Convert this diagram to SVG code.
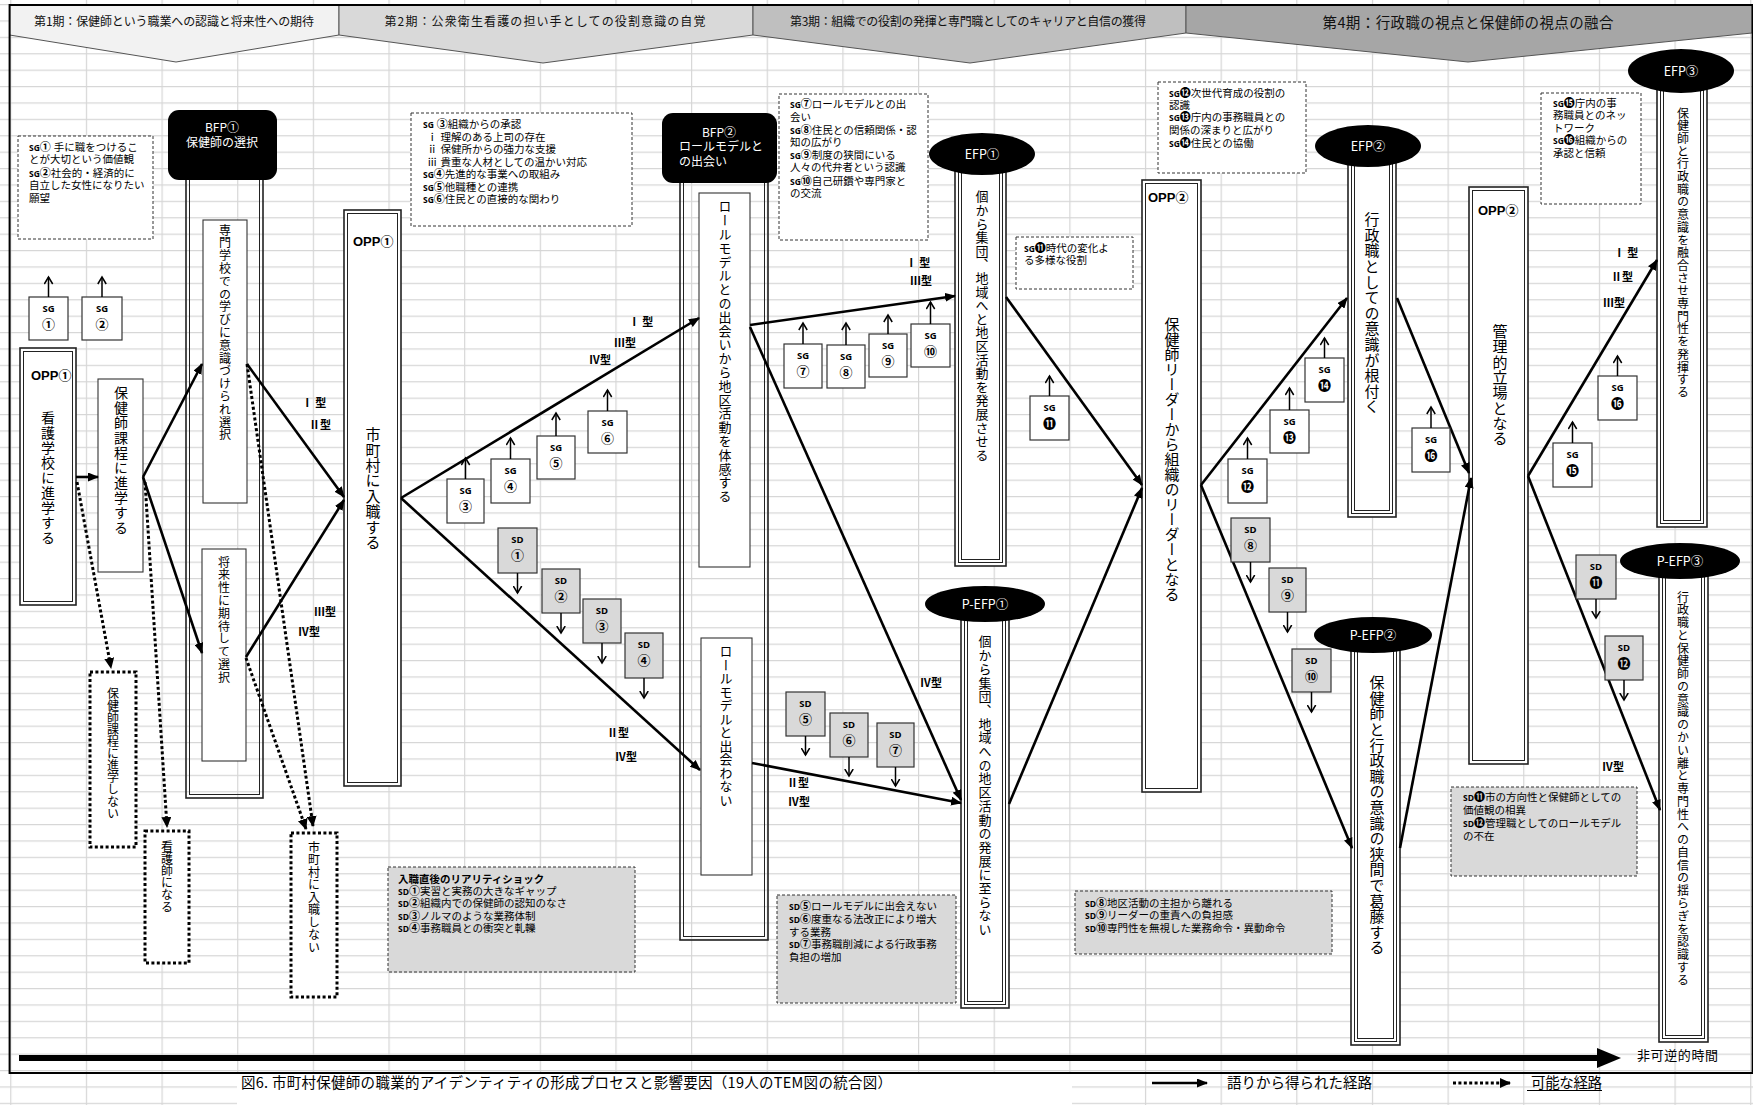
<svg xmlns="http://www.w3.org/2000/svg" width="1753" height="1105" viewBox="0 0 1753 1105">
<defs>
<style>
text{font-family:"Noto Sans CJK JP","Noto Sans",sans-serif;fill:#000}
.hd{font-size:12px;text-anchor:middle;fill:#111}
.ls{font-size:10.5px;font-family:"Liberation Sans","Noto Sans CJK JP",sans-serif}
.b{font-weight:bold;font-size:8.5px;font-family:"Open Sans","Noto Sans",sans-serif}
.cn{font-weight:bold;font-size:11px}
.dbox{fill:#fff;stroke:#333;stroke-width:1;stroke-dasharray:3 2}
.gbox{fill:#d9d9d9;stroke:#333;stroke-width:1;stroke-dasharray:3 2}
.sg{fill:#fff;stroke:#333;stroke-width:1.2}
.sd{fill:#d9d9d9;stroke:#333;stroke-width:1.2}
.sl{font-size:9.5px;font-weight:bold;text-anchor:middle;font-family:"Open Sans","Noto Sans",sans-serif}
.sn{font-size:13px;font-weight:bold;text-anchor:middle}
.ar{stroke:#000;stroke-width:1.5;fill:none;marker-end:url(#op)}
.mp{stroke:#000;stroke-width:2.6;fill:none;marker-end:url(#ah)}
.dp{stroke:#000;stroke-width:3;stroke-dasharray:3 2.4;fill:none;marker-end:url(#ahd)}
.dbx{fill:#fff;stroke:#000;stroke-width:3;stroke-dasharray:3 2.4}
.co{fill:#fff;stroke:#222;stroke-width:1.6}
.cn0{fill:none;stroke:#222;stroke-width:1.6}
.ci{fill:none;stroke:#222;stroke-width:1}
.ib{fill:#fff;stroke:#333;stroke-width:1.1}
.vt{writing-mode:vertical-rl}
.ty{font-family:"Liberation Serif","Noto Sans CJK JP",serif;font-weight:bold;font-size:11px;text-anchor:middle}
.wt{fill:#fff;text-anchor:middle;font-size:12.5px}
.op{font-family:"Liberation Sans","Noto Sans CJK JP",sans-serif;font-weight:bold;font-size:13px}
.hdp{stroke:#555;stroke-width:1}
</style>
<pattern id="grid" patternUnits="userSpaceOnUse" x="10.2" y="4" width="75.65" height="16.4">
<path d="M0,0.6 H75.65 M0.6,0 V16.4" stroke="#d6d6d6" stroke-width="1.2" fill="none"/>
</pattern>
<marker id="ah" markerUnits="userSpaceOnUse" markerWidth="11" markerHeight="9" refX="10" refY="4.5" orient="auto"><path d="M0,0 L11,4.5 L0,9 z" fill="#000"/></marker>
<marker id="ahd" markerUnits="userSpaceOnUse" markerWidth="11" markerHeight="10" refX="10" refY="5" orient="auto"><path d="M0,0 L11,5 L0,10 z" fill="#000"/></marker>
<marker id="op" markerUnits="userSpaceOnUse" markerWidth="10" markerHeight="10" refX="7.5" refY="5" orient="auto"><path d="M0.5,0.8 L7.5,5 L0.5,9.2" stroke="#000" stroke-width="1.5" fill="none"/></marker>
</defs>

<rect x="0" y="0" width="1753" height="1105" fill="#fff"/>
<rect x="0" y="0" width="1753" height="1105" fill="url(#grid)"/>
<rect x="237" y="1074" width="835" height="31" fill="#fff"/>

<g id="headers">
<polygon class="hdp" points="9.6,5 339,5 339,35 176,62 9.6,35" fill="#f2f2f2"/>
<polygon class="hdp" points="339,5 753,5 753,35 543,63 339,35" fill="#d9d9d9"/>
<polygon class="hdp" points="753,5 1186,5 1186,33 970,63 753,35" fill="#bfbfbf"/>
<polygon class="hdp" points="1186,5 1752,5 1752,33 1468,62 1186,33" fill="#a6a6a6"/>
<text class="hd" x="174" y="26" textLength="280">第1期：保健師という職業への認識と将来性への期待</text>
<text class="hd" x="545" y="26" textLength="321">第2期：公衆衛生看護の担い手としての役割意識の自覚</text>
<text class="hd" x="968" y="26" textLength="356">第3期：組織での役割の発揮と専門職としてのキャリアと自信の獲得</text>
<text class="hd" x="1468" y="28" textLength="291" style="font-size:14.5px">第4期：行政職の視点と保健師の視点の融合</text>
</g>

<g id="sg12-list">
<rect class="dbox" x="18" y="136" width="135" height="103"/>
<text class="ls" x="29" y="151"><tspan class="b">SG</tspan><tspan class="cn">①</tspan> 手に職をつけるこ</text>
<text class="ls" x="29" y="163">とが大切という価値観</text>
<text class="ls" x="29" y="177"><tspan class="b">SG</tspan><tspan class="cn">②</tspan>社会的・経済的に</text>
<text class="ls" x="29" y="189">自立した女性になりたい</text>
<text class="ls" x="29" y="202">願望</text>
</g>
<g id="sg3-list">
<rect class="dbox" x="411" y="113" width="221" height="113"/>
<text class="ls" x="423" y="128"><tspan class="b">SG</tspan> <tspan class="cn">③</tspan>組織からの承認</text>
<text class="ls" x="427" y="141">ⅰ 理解のある上司の存在</text>
<text class="ls" x="427" y="153">ⅱ 保健所からの強力な支援</text>
<text class="ls" x="427" y="166">ⅲ 貴重な人材としての温かい対応</text>
<text class="ls" x="423" y="178"><tspan class="b">SG</tspan><tspan class="cn">④</tspan>先進的な事業への取組み</text>
<text class="ls" x="423" y="191"><tspan class="b">SG</tspan><tspan class="cn">⑤</tspan>他職種との連携</text>
<text class="ls" x="423" y="203"><tspan class="b">SG</tspan><tspan class="cn">⑥</tspan>住民との直接的な関わり</text>
</g>
<g id="sg7-list">
<rect class="dbox" x="779" y="94" width="149" height="146"/>
<text class="ls" x="790" y="108"><tspan class="b">SG</tspan><tspan class="cn">⑦</tspan>ロールモデルとの出</text>
<text class="ls" x="790" y="121">会い</text>
<text class="ls" x="790" y="134"><tspan class="b">SG</tspan><tspan class="cn">⑧</tspan>住民との信頼関係・認</text>
<text class="ls" x="790" y="146">知の広がり</text>
<text class="ls" x="790" y="159"><tspan class="b">SG</tspan><tspan class="cn">⑨</tspan>制度の狭間にいる</text>
<text class="ls" x="790" y="171">人々の代弁者という認識</text>
<text class="ls" x="790" y="185"><tspan class="b">SG</tspan><tspan class="cn">⑩</tspan>自己研鑽や専門家と</text>
<text class="ls" x="790" y="197">の交流</text>
</g>
<g id="sg11-list">
<rect class="dbox" x="1016" y="237" width="117" height="52"/>
<text class="ls" x="1024" y="252"><tspan class="b">SG</tspan><tspan class="cn">⓫</tspan>時代の変化よ</text>
<text class="ls" x="1024" y="264">る多様な役割</text>
</g>
<g id="sg12-14-list">
<rect class="dbox" x="1158" y="82" width="148" height="91"/>
<text class="ls" x="1169" y="97"><tspan class="b">SG</tspan><tspan class="cn">⓬</tspan>次世代育成の役割の</text>
<text class="ls" x="1169" y="109">認識</text>
<text class="ls" x="1169" y="121"><tspan class="b">SG</tspan><tspan class="cn">⓭</tspan>庁内の事務職員との</text>
<text class="ls" x="1169" y="134">関係の深まりと広がり</text>
<text class="ls" x="1169" y="147"><tspan class="b">SG</tspan><tspan class="cn">⓮</tspan>住民との協働</text>
</g>
<g id="sg15-16-list">
<rect class="dbox" x="1541" y="93" width="100" height="111"/>
<text class="ls" x="1553" y="107"><tspan class="b">SG</tspan><tspan class="cn">⓯</tspan>庁内の事</text>
<text class="ls" x="1553" y="119">務職員とのネッ</text>
<text class="ls" x="1553" y="132">トワーク</text>
<text class="ls" x="1553" y="144"><tspan class="b">SG</tspan><tspan class="cn">⓰</tspan>組織からの</text>
<text class="ls" x="1553" y="157">承認と信頼</text>
</g>
<g id="sd1-4-list">
<rect class="gbox" x="388" y="867" width="247" height="105"/>
<text class="ls" x="398" y="883" font-weight="bold">入職直後のリアリティショック</text>
<text class="ls" x="398" y="895"><tspan class="b">SD</tspan><tspan class="cn">①</tspan>実習と実務の大きなギャップ</text>
<text class="ls" x="398" y="907"><tspan class="b">SD</tspan><tspan class="cn">②</tspan>組織内での保健師の認知のなさ</text>
<text class="ls" x="398" y="920"><tspan class="b">SD</tspan><tspan class="cn">③</tspan>ノルマのような業務体制</text>
<text class="ls" x="398" y="932"><tspan class="b">SD</tspan><tspan class="cn">④</tspan>事務職員との衝突と軋轢</text>
</g>
<g id="sd5-7-list">
<rect class="gbox" x="777" y="895" width="179" height="108"/>
<text class="ls" x="789" y="910"><tspan class="b">SD</tspan><tspan class="cn">⑤</tspan>ロールモデルに出会えない</text>
<text class="ls" x="789" y="923"><tspan class="b">SD</tspan><tspan class="cn">⑥</tspan>度重なる法改正により増大</text>
<text class="ls" x="789" y="936">する業務</text>
<text class="ls" x="789" y="948"><tspan class="b">SD</tspan><tspan class="cn">⑦</tspan>事務職削減による行政事務</text>
<text class="ls" x="789" y="961">負担の増加</text>
</g>
<g id="sd8-10-list">
<rect class="gbox" x="1075" y="891" width="257" height="63"/>
<text class="ls" x="1085" y="907"><tspan class="b">SD</tspan><tspan class="cn">⑧</tspan>地区活動の主担から離れる</text>
<text class="ls" x="1085" y="919"><tspan class="b">SD</tspan><tspan class="cn">⑨</tspan>リーダーの重責への負担感</text>
<text class="ls" x="1085" y="932"><tspan class="b">SD</tspan><tspan class="cn">⑩</tspan>専門性を無視した業務命令・異動命令</text>
</g>
<g id="sd11-12-list">
<rect class="gbox" x="1451" y="787" width="186" height="89"/>
<text class="ls" x="1463" y="801"><tspan class="b">SD</tspan><tspan class="cn">⓫</tspan>市の方向性と保健師としての</text>
<text class="ls" x="1463" y="814">価値観の相異</text>
<text class="ls" x="1463" y="827"><tspan class="b">SD</tspan><tspan class="cn">⓬</tspan>管理職としてのロールモデル</text>
<text class="ls" x="1463" y="840">の不在</text>
</g>

<g id="opp1a">
<rect class="co" x="20" y="348" width="56" height="257"/>
<rect class="ci" x="23.5" y="351.5" width="49" height="250"/>
<text class="op" x="31" y="380">OPP①</text>
<text class="vt" x="48" y="411" style="font-size:14px;letter-spacing:1px">看護学校に進学する</text>
</g>
<g id="hokenshi-katei">
<rect class="ib" x="98" y="379" width="45" height="193"/>
<text class="vt" x="121" y="386" style="font-size:14px;letter-spacing:1px">保健師課程に進学する</text>
</g>
<g id="bfp1">
<rect class="cn0" x="186" y="175" width="77" height="623"/>
<rect class="ci" x="189.5" y="178" width="70" height="616.5"/>
<rect x="168" y="110" width="109" height="70" rx="11" fill="#000"/>
<text class="wt" x="222" y="132" style="font-size:12px">BFP①</text>
<text class="wt" x="222" y="147" style="font-size:12px">保健師の選択</text>
<rect class="ib" x="203" y="220" width="44" height="283"/>
<text class="vt" x="225" y="224" style="font-size:12px;letter-spacing:0.8px">専門学校での学びに意識づけられ選択</text>
<rect class="ib" x="202" y="549" width="44" height="212"/>
<text class="vt" x="224" y="556" style="font-size:12px;letter-spacing:0.8px">将来性に期待して選択</text>
</g>
<g id="opp1b">
<rect class="co" x="344" y="210" width="57" height="576"/>
<rect class="ci" x="347.5" y="213.5" width="50" height="569"/>
<text class="op" x="353" y="246">OPP①</text>
<text class="vt" x="373" y="427" style="font-size:15px;letter-spacing:0.4px">市町村に入職する</text>
</g>
<g id="bfp2">
<rect class="cn0" x="680" y="178" width="88" height="762"/>
<rect class="ci" x="683.5" y="181" width="81" height="755.5"/>
<rect x="662" y="113" width="115" height="70" rx="11" fill="#000"/>
<text class="wt" x="719" y="137" style="font-size:12px">BFP②</text>
<text x="679" y="151" style="font-size:12px;fill:#fff">ロールモデルと</text>
<text x="679" y="166" style="font-size:12px;fill:#fff">の出会い</text>
<rect class="ib" x="699" y="193" width="51" height="374"/>
<text class="vt" x="725" y="200" style="font-size:13px;letter-spacing:0.8px">ロールモデルとの出会いから地区活動を体感する</text>
<rect class="ib" x="701" y="638" width="51" height="237"/>
<text class="vt" x="726" y="645" style="font-size:13px;letter-spacing:0.5px">ロールモデルと出会わない</text>
</g>
<g id="efp1">
<rect class="co" x="955" y="154" width="51" height="412"/>
<rect class="ci" x="958.5" y="154" width="44" height="408.5"/>
<rect class="ci" x="961.5" y="154" width="38" height="405.5"/>
<ellipse cx="982" cy="154" rx="53" ry="21" fill="#000"/>
<text class="wt" x="982" y="159">EFP①</text>
<text class="vt" x="982" y="190" style="font-size:13px;letter-spacing:0.6px">個から集団、地域へと地区活動を発展させる</text>
</g>
<g id="pefp1">
<rect class="co" x="961" y="604" width="48" height="404"/>
<rect class="ci" x="964.5" y="604" width="41" height="400.5"/>
<rect class="ci" x="967.5" y="604" width="35" height="397.5"/>
<ellipse cx="985" cy="604" rx="60" ry="18" fill="#000"/>
<text class="wt" x="985" y="609">P-EFP①</text>
<text class="vt" x="985" y="635" style="font-size:13px;letter-spacing:0.7px">個から集団、地域への地区活動の発展に至らない</text>
</g>
<g id="opp2a">
<rect class="co" x="1142" y="180" width="59" height="612"/>
<rect class="ci" x="1145.5" y="183.5" width="52" height="605"/>
<text class="op" x="1148" y="202">OPP②</text>
<text class="vt" x="1172" y="317" style="font-size:15px">保健師リーダーから組織のリーダーとなる</text>
</g>
<g id="efp2">
<rect class="co" x="1348" y="146" width="48" height="371"/>
<rect class="ci" x="1351.5" y="146" width="41" height="367.5"/>
<rect class="ci" x="1354.5" y="146" width="35" height="364.5"/>
<ellipse cx="1368" cy="146" rx="53" ry="21" fill="#000"/>
<text class="wt" x="1368" y="151">EFP②</text>
<text class="vt" x="1372" y="212" style="font-size:15px;letter-spacing:0.6px">行政職としての意識が根付く</text>
</g>
<g id="pefp2">
<rect class="co" x="1351" y="635" width="49" height="410"/>
<rect class="ci" x="1354.5" y="635" width="42" height="406.5"/>
<rect class="ci" x="1357.5" y="635" width="36" height="403.5"/>
<ellipse cx="1373" cy="635" rx="59" ry="18" fill="#000"/>
<text class="wt" x="1373" y="640">P-EFP②</text>
<text class="vt" x="1377" y="675" style="font-size:15px;letter-spacing:0.6px">保健師と行政職の意識の狭間で葛藤する</text>
</g>
<g id="opp2b">
<rect class="co" x="1469" y="187" width="59" height="577"/>
<rect class="ci" x="1472.5" y="190.5" width="52" height="570"/>
<text class="op" x="1478" y="215">OPP②</text>
<text class="vt" x="1500" y="324" style="font-size:15px;letter-spacing:0.3px">管理的立場となる</text>
</g>
<g id="efp3">
<rect class="co" x="1657" y="71" width="50" height="456"/>
<rect class="ci" x="1660.5" y="71" width="43" height="452.5"/>
<rect class="ci" x="1663.5" y="71" width="37" height="449.5"/>
<ellipse cx="1681" cy="71" rx="53" ry="22" fill="#000"/>
<text class="wt" x="1681" y="76">EFP③</text>
<text class="vt" x="1683" y="107" style="font-size:12px;letter-spacing:0.7px">保健師と行政職の意識を融合させ専門性を発揮する</text>
</g>
<g id="pefp3">
<rect class="co" x="1659" y="561" width="49" height="481"/>
<rect class="ci" x="1662.5" y="561" width="42" height="477.5"/>
<rect class="ci" x="1665.5" y="561" width="36" height="474.5"/>
<ellipse cx="1680" cy="561" rx="60" ry="18" fill="#000"/>
<text class="wt" x="1680" y="566">P-EFP③</text>
<text class="vt" x="1683" y="591" style="font-size:12px;letter-spacing:0.77px">行政職と保健師の意識のかい離と専門性への自信の揺らぎを認識する</text>
</g>

<g id="not-katei"><rect class="dbx" x="90" y="672" width="46" height="175"/><text class="vt" x="113" y="687" style="font-size:12px">保健師課程に進学しない</text></g>
<g id="kangoshi"><rect class="dbx" x="145" y="831" width="44" height="132"/><text class="vt" x="167" y="840" style="font-size:12px;letter-spacing:0.2px">看護師になる</text></g>
<g id="not-nyushoku"><rect class="dbx" x="291" y="833" width="46" height="164"/><text class="vt" x="314" y="841" style="font-size:12px;letter-spacing:0.5px">市町村に入職しない</text></g>

<g id="connectors">
<path class="mp" d="M76,477 L98,477"/>
<path class="mp" d="M143,477 L202,364"/>
<path class="mp" d="M143,477 L202,653"/>
<path class="mp" d="M247,364 L344,497"/>
<path class="mp" d="M246,657 L344,500"/>
<path class="mp" d="M401,498 L699,318"/>
<path class="mp" d="M401,498 L700,770"/>
<path class="mp" d="M750,325 L955,296"/>
<path class="mp" d="M750,327 L961,800"/>
<path class="mp" d="M752,763 L961,803"/>
<path class="mp" d="M1006,297 L1142,485"/>
<path class="mp" d="M1009,804 L1142,488"/>
<path class="mp" d="M1201,485 L1347,298"/>
<path class="mp" d="M1201,485 L1352,848"/>
<path class="mp" d="M1397,298 L1469,473"/>
<path class="mp" d="M1400,848 L1471,478"/>
<path class="mp" d="M1528,476 L1657,260"/>
<path class="mp" d="M1528,476 L1660,810"/>
<path class="dp" d="M77,482 L111,668"/>
<path class="dp" d="M145,482 L167,827"/>
<path class="dp" d="M247,364 L313,826"/>
<path class="dp" d="M246,658 L306,829"/>
</g>

<g id="types">
<text class="ty" x="314" y="407">Ⅰ 型</text>
<text class="ty" x="320" y="429">Ⅱ型</text>
<text class="ty" x="325" y="616">Ⅲ型</text>
<text class="ty" x="309" y="636">Ⅳ型</text>
<text class="ty" x="641" y="326">Ⅰ 型</text>
<text class="ty" x="625" y="347">Ⅲ型</text>
<text class="ty" x="600" y="364">Ⅳ型</text>
<text class="ty" x="618" y="737">Ⅱ型</text>
<text class="ty" x="626" y="761">Ⅳ型</text>
<text class="ty" x="918" y="267">Ⅰ 型</text>
<text class="ty" x="921" y="285">Ⅲ型</text>
<text class="ty" x="931" y="687">Ⅳ型</text>
<text class="ty" x="798" y="787">Ⅱ型</text>
<text class="ty" x="799" y="806">Ⅳ型</text>
<text class="ty" x="1626" y="257">Ⅰ 型</text>
<text class="ty" x="1622" y="281">Ⅱ型</text>
<text class="ty" x="1614" y="307">Ⅲ型</text>
<text class="ty" x="1613" y="771">Ⅳ型</text>
</g>

<g id="sg-boxes">
<g id="sg1"><rect class="sg" x="29" y="297" width="39" height="43"/><text class="sl" x="48.5" y="312">SG</text><text class="sn" x="48.5" y="329">①</text><line class="ar" x1="48.5" y1="297" x2="48.5" y2="277"/></g>
<g id="sg2"><rect class="sg" x="82" y="297" width="40" height="43"/><text class="sl" x="102" y="312">SG</text><text class="sn" x="102" y="329">②</text><line class="ar" x1="102" y1="297" x2="102" y2="277"/></g>
<g id="sg3"><rect class="sg" x="447" y="479" width="37" height="44"/><text class="sl" x="465.5" y="494">SG</text><text class="sn" x="465.5" y="511">③</text><line class="ar" x1="465.5" y1="479" x2="465.5" y2="458"/></g>
<g id="sg4"><rect class="sg" x="491" y="459" width="39" height="44"/><text class="sl" x="510.5" y="474">SG</text><text class="sn" x="510.5" y="491">④</text><line class="ar" x1="510.5" y1="459" x2="510.5" y2="438"/></g>
<g id="sg5"><rect class="sg" x="537" y="436" width="38" height="43"/><text class="sl" x="556" y="451">SG</text><text class="sn" x="556" y="468">⑤</text><line class="ar" x1="556" y1="436" x2="556" y2="413"/></g>
<g id="sg6"><rect class="sg" x="588" y="411" width="39" height="42"/><text class="sl" x="607.5" y="426">SG</text><text class="sn" x="607.5" y="443">⑥</text><line class="ar" x1="607.5" y1="411" x2="607.5" y2="390"/></g>
<g id="sg7"><rect class="sg" x="784" y="344" width="38" height="44"/><text class="sl" x="803" y="359">SG</text><text class="sn" x="803" y="376">⑦</text><line class="ar" x1="803" y1="344" x2="803" y2="323"/></g>
<g id="sg8"><rect class="sg" x="827" y="345" width="38" height="43"/><text class="sl" x="846" y="360">SG</text><text class="sn" x="846" y="377">⑧</text><line class="ar" x1="846" y1="345" x2="846" y2="323"/></g>
<g id="sg9"><rect class="sg" x="869" y="334" width="38" height="43"/><text class="sl" x="888" y="349">SG</text><text class="sn" x="888" y="366">⑨</text><line class="ar" x1="888" y1="334" x2="888" y2="315"/></g>
<g id="sg10"><rect class="sg" x="911" y="324" width="39" height="43"/><text class="sl" x="930.5" y="339">SG</text><text class="sn" x="930.5" y="356">⑩</text><line class="ar" x1="930.5" y1="324" x2="930.5" y2="302"/></g>
<g id="sg11"><rect class="sg" x="1030" y="396" width="39" height="44"/><text class="sl" x="1049.5" y="411">SG</text><text class="sn" x="1049.5" y="428">⓫</text><line class="ar" x1="1049.5" y1="396" x2="1049.5" y2="376"/></g>
<g id="sg12"><rect class="sg" x="1228" y="459" width="39" height="44"/><text class="sl" x="1247.5" y="474">SG</text><text class="sn" x="1247.5" y="491">⓬</text><line class="ar" x1="1247.5" y1="459" x2="1247.5" y2="438"/></g>
<g id="sg13"><rect class="sg" x="1270" y="410" width="39" height="43"/><text class="sl" x="1289.5" y="425">SG</text><text class="sn" x="1289.5" y="442">⓭</text><line class="ar" x1="1289.5" y1="410" x2="1289.5" y2="388"/></g>
<g id="sg14"><rect class="sg" x="1305" y="358" width="39" height="44"/><text class="sl" x="1324.5" y="373">SG</text><text class="sn" x="1324.5" y="390">⓮</text><line class="ar" x1="1324.5" y1="358" x2="1324.5" y2="338"/></g>
<g id="sg16a"><rect class="sg" x="1412" y="428" width="38" height="44"/><text class="sl" x="1431" y="443">SG</text><text class="sn" x="1431" y="460">⓰</text><line class="ar" x1="1431" y1="428" x2="1431" y2="407"/></g>
<g id="sg15"><rect class="sg" x="1553" y="443" width="39" height="44"/><text class="sl" x="1572.5" y="458">SG</text><text class="sn" x="1572.5" y="475">⓯</text><line class="ar" x1="1572.5" y1="443" x2="1572.5" y2="422"/></g>
<g id="sg16b"><rect class="sg" x="1598" y="376" width="39" height="44"/><text class="sl" x="1617.5" y="391">SG</text><text class="sn" x="1617.5" y="408">⓰</text><line class="ar" x1="1617.5" y1="376" x2="1617.5" y2="356"/></g>
</g>

<g id="sd-boxes">
<g id="sd1"><rect class="sd" x="498" y="528" width="39" height="45"/><text class="sl" x="517.5" y="543">SD</text><text class="sn" x="517.5" y="560">①</text><line class="ar" x1="517.5" y1="573" x2="517.5" y2="593"/></g>
<g id="sd2"><rect class="sd" x="542" y="569" width="38" height="44"/><text class="sl" x="561" y="584">SD</text><text class="sn" x="561" y="601">②</text><line class="ar" x1="561" y1="613" x2="561" y2="633"/></g>
<g id="sd3"><rect class="sd" x="583" y="599" width="38" height="44"/><text class="sl" x="602" y="614">SD</text><text class="sn" x="602" y="631">③</text><line class="ar" x1="602" y1="643" x2="602" y2="663"/></g>
<g id="sd4"><rect class="sd" x="625" y="633" width="38" height="45"/><text class="sl" x="644" y="648">SD</text><text class="sn" x="644" y="665">④</text><line class="ar" x1="644" y1="678" x2="644" y2="698"/></g>
<g id="sd5"><rect class="sd" x="786" y="692" width="39" height="44"/><text class="sl" x="805.5" y="707">SD</text><text class="sn" x="805.5" y="724">⑤</text><line class="ar" x1="805.5" y1="736" x2="805.5" y2="755"/></g>
<g id="sd6"><rect class="sd" x="830" y="713" width="38" height="44"/><text class="sl" x="849" y="728">SD</text><text class="sn" x="849" y="745">⑥</text><line class="ar" x1="849" y1="757" x2="849" y2="776"/></g>
<g id="sd7"><rect class="sd" x="877" y="723" width="37" height="44"/><text class="sl" x="895.5" y="738">SD</text><text class="sn" x="895.5" y="755">⑦</text><line class="ar" x1="895.5" y1="767" x2="895.5" y2="786"/></g>
<g id="sd8"><rect class="sd" x="1231" y="518" width="39" height="44"/><text class="sl" x="1250.5" y="533">SD</text><text class="sn" x="1250.5" y="550">⑧</text><line class="ar" x1="1250.5" y1="562" x2="1250.5" y2="582"/></g>
<g id="sd9"><rect class="sd" x="1269" y="568" width="37" height="44"/><text class="sl" x="1287.5" y="583">SD</text><text class="sn" x="1287.5" y="600">⑨</text><line class="ar" x1="1287.5" y1="612" x2="1287.5" y2="632"/></g>
<g id="sd10"><rect class="sd" x="1292" y="649" width="39" height="43"/><text class="sl" x="1311.5" y="664">SD</text><text class="sn" x="1311.5" y="681">⑩</text><line class="ar" x1="1311.5" y1="692" x2="1311.5" y2="712"/></g>
<g id="sd11"><rect class="sd" x="1576" y="555" width="40" height="44"/><text class="sl" x="1596" y="570">SD</text><text class="sn" x="1596" y="587">⓫</text><line class="ar" x1="1596" y1="599" x2="1596" y2="618"/></g>
<g id="sd12"><rect class="sd" x="1605" y="636" width="38" height="44"/><text class="sl" x="1624" y="651">SD</text><text class="sn" x="1624" y="668">⓬</text><line class="ar" x1="1624" y1="680" x2="1624" y2="700"/></g>
</g>

<g id="time">
<line x1="19" y1="1058" x2="1600" y2="1058" stroke="#000" stroke-width="6"/>
<polygon points="1597,1048 1621,1058 1597,1068" fill="#000"/>
<text x="1637" y="1060" style="font-size:13px" textLength="81">非可逆的時間</text>
</g>

<rect x="9.6" y="5" width="1743" height="1068" fill="none" stroke="#000" stroke-width="2"/>

<g id="caption">
<text x="241" y="1088" style="font-size:14.5px" textLength="651">図6. 市町村保健師の職業的アイデンティティの形成プロセスと影響要因（19人のTEM図の統合図）</text>
</g>
<g id="legend">
<line x1="1152" y1="1083" x2="1207" y2="1083" stroke="#000" stroke-width="2.6" marker-end="url(#ah)"/>
<text x="1227" y="1088" style="font-size:14.5px" textLength="145">語りから得られた経路</text>
<line x1="1453" y1="1083" x2="1510" y2="1083" stroke="#000" stroke-width="3" stroke-dasharray="3 2.4" marker-end="url(#ahd)"/>
<text x="1531" y="1088" style="font-size:14.5px" textLength="71">可能な経路</text>
<line x1="1527" y1="1090.5" x2="1602" y2="1090.5" stroke="#000" stroke-width="1"/>
</g>
</svg>
